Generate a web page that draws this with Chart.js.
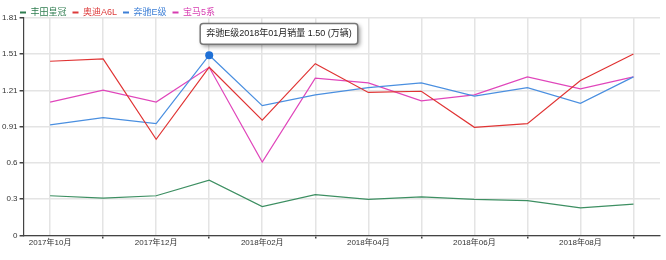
<!DOCTYPE html>
<html>
<head>
<meta charset="utf-8">
<script src="https://cdn.jsdelivr.net/npm/chart.js@4"></script>
<style>
  html, body { margin: 0; padding: 0; background: #fff; }
  #wrap { width: 666px; height: 260px; }
</style>
</head>
<body>
<div id="wrap"><canvas id="chart" width="666" height="260"></canvas></div>
<script>
const months = ['2017年10月', '2017年11月', '2017年12月', '2018年01月', '2018年02月', '2018年03月',
                '2018年04月', '2018年05月', '2018年06月', '2018年07月', '2018年08月', '2018年09月'];
const yLabels = ['0', '0.3', '0.6', '0.91', '1.21', '1.51', '1.81'];

const names = ['丰田皇冠', '奥迪A6L', '奔驰E级', '宝马5系'];
const crown = [0.33, 0.31, 0.33, 0.46, 0.24, 0.34, 0.30, 0.32, 0.30, 0.29, 0.23, 0.26];
const a6l   = [1.45, 1.47, 0.80, 1.40, 0.96, 1.43, 1.19, 1.20, 0.90, 0.93, 1.29, 1.51];
const eclass = [0.92, 0.98, 0.93, 1.50, 1.08, 1.17, 1.23, 1.27, 1.16, 1.23, 1.10, 1.32];
const bmw5  = [1.11, 1.21, 1.11, 1.40, 0.61, 1.31, 1.27, 1.12, 1.17, 1.32, 1.22, 1.32];

const lineColors = ['#3d8f62', '#e03434', '#4a8fe0', '#e046bb'];
const textColors = ['#2f7d50', '#dd3a3a', '#3d7fd6', '#d63cb0'];

const FONT = "'Liberation Sans', 'Noto Sans CJK SC', sans-serif";

// tooltip pinned up and to the right of the point
Chart.Tooltip.positioners.pinned = function (elements) {
  if (!elements.length) return false;
  const el = elements[0].element;
  return { x: el.x - 6, y: el.y - 11, xAlign: 'left', yAlign: 'bottom' };
};

const tooltipShadow = {
  id: 'tooltipShadow',
  beforeTooltipDraw(chart, args) {
    const tt = args.tooltip;
    if (!tt.opacity) return;
    const c = chart.ctx;
    c.save();
    c.shadowColor = 'rgba(0,0,0,0.45)';
    c.shadowBlur = 4;
    c.shadowOffsetX = 2;
    c.shadowOffsetY = 2;
    c.fillStyle = '#fff';
    c.beginPath();
    c.roundRect(tt.x, tt.y, tt.width, tt.height, 3);
    c.fill();
    c.restore();
  }
};

// legend sits partly beside the top of the plot, so shrink its box a bit
const legendTweak = {
  id: 'legendTweak',
  beforeLayout(chart) {
    const lg = chart.legend;
    if (lg && !lg._wrapped) {
      const f = lg.fit;
      lg.fit = function () { f.call(this); this.height = 18; };
      lg._wrapped = true;
    }
  },
  afterLayout(chart) {
    chart.legend.left += 14;
    chart.legend.top += 2;
  }
};

const series = [crown, a6l, eclass, bmw5];
const ctx = document.getElementById('chart');
const chart = new Chart(ctx, {
  type: 'line',
  data: {
    labels: months,
    datasets: series.map((s, k) => ({
      label: names[k],
      data: s,
      borderColor: lineColors[k],
      backgroundColor: lineColors[k],
      borderWidth: 1.2,
      pointRadius: 0,
      pointHoverRadius: 4,
      pointHoverBorderWidth: 0,
      pointHoverBackgroundColor: '#1f70d6',
      tension: 0
    }))
  },
  options: {
    responsive: false,
    animation: false,
    events: [],
    layout: { padding: { left: 0, right: 6, top: 0, bottom: 12 } },
    scales: {
      x: {
        offset: true,
        ticks: {
          autoSkip: false,
          maxRotation: 0,
          color: '#333',
          font: { family: FONT, size: 8 },
          padding: 0,
          callback: (v, i) => i % 2 === 0 ? months[i] : ''
        },
        grid: {
          offset: false,
          color: '#e4e4e4',
          lineWidth: 1.5,
          tickLength: 3,
          tickColor: c => (c.index % 2 === 1) ? '#444' : 'rgba(0,0,0,0)'
        },
        border: { color: '#444', width: 1.2 }
      },
      y: {
        min: 0,
        max: 1.81,
        ticks: {
          stepSize: 1.81 / 6,
          color: '#333',
          font: { family: FONT, size: 8 },
          padding: 2,
          callback: (v, i) => yLabels[i]
        },
        grid: { color: '#e4e4e4', lineWidth: 1.5, tickLength: 4, tickColor: '#444' },
        border: { color: '#444', width: 1.2 }
      }
    },
    plugins: {
      legend: {
        align: 'start',
        labels: {
          boxWidth: 6,
          boxHeight: 2,
          padding: 6,
          font: { family: FONT, size: 9 },
          generateLabels: ch => Chart.defaults.plugins.legend.labels.generateLabels(ch).map((it, k) => {
            it.fontColor = textColors[k];
            it.fillStyle = textColors[k];
            it.strokeStyle = textColors[k];
            it.lineWidth = 0;
            return it;
          })
        }
      },
      tooltip: {
        enabled: true,
        position: 'pinned',
        backgroundColor: '#fff',
        borderColor: '#777',
        borderWidth: 1.5,
        cornerRadius: 3,
        caretSize: 0,
        caretPadding: 0,
        displayColors: false,
        padding: { left: 6, right: 6, top: 5, bottom: 5 },
        bodyColor: '#222',
        bodyFont: { family: FONT, size: 9 },
        callbacks: {
          title: () => '',
          label: c => names[c.datasetIndex] + months[c.dataIndex] + '销量 ' + c.parsed.y.toFixed(2) + ' (万辆)'
        }
      }
    }
  },
  plugins: [tooltipShadow, legendTweak]
});

const act = [{ datasetIndex: 2, index: 3 }];
chart.setActiveElements(act);
chart.tooltip.setActiveElements(act, { x: 0, y: 0 });
chart.update();
</script>
</body>
</html>
